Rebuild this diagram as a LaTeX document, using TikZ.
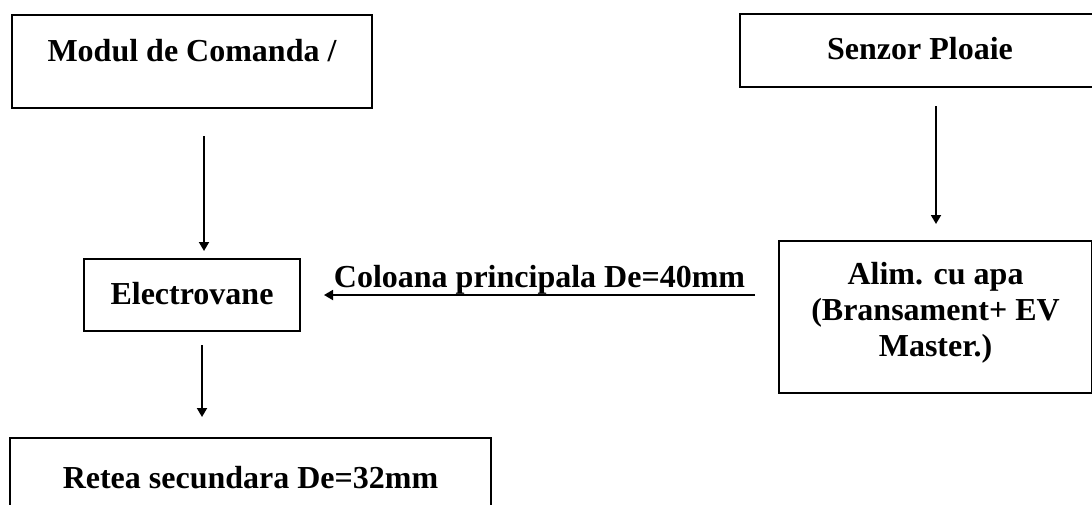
\documentclass[tikz,border=0pt]{standalone}
\usepackage{fontspec}
\setmainfont{Liberation Serif}
\usetikzlibrary{arrows.meta,calc}
\begin{document}
\begin{tikzpicture}[x=1pt,y=-1pt,
  box/.style={draw=black,line width=2pt,inner sep=0pt,font=\fontsize{32}{36}\selectfont\bfseries,anchor=north west},
  arr/.style={line width=1.8pt,-{Triangle[width=10pt,length=9pt]}},
  lbl/.style={font=\fontsize{32}{36}\selectfont\bfseries,inner sep=0pt}]
\useasboundingbox (0,0) rectangle (1092,504);
\node[box,minimum width=360pt,text height=46pt,text depth=47pt] (mod) at (11,14) {Modul de Comanda /};
\node[box,minimum width=360pt,text height=45pt,text depth=28pt] (sen) at (739,13) {Senzor Ploaie};
\node[box,minimum width=216pt,text height=45pt,text depth=27pt] (ev) at (83,258) {Electrovane};
\node[box,minimum width=313pt,align=center,text height=115pt,text depth=37pt] (alim) at (778,240) {Alim. cu apa\\(Bransament+ EV\\Master.)};
\node[box,minimum width=481pt,text height=50pt,text depth=45pt] (ret) at (9,437) {Retea secundara De=32mm};
\draw[arr,shorten <=27pt,shorten >=7pt] ([xshift=12pt]mod.south) -- ([xshift=12pt]mod.south |- ev.north);
\draw[arr,shorten <=18pt,shorten >=16pt] ([xshift=16pt]sen.south) -- ([xshift=16pt]sen.south |- alim.north);
\draw[arr,shorten <=23pt,shorten >=23pt] (alim.west |- ev.east) -- node[lbl,above=0pt] (col) {Coloana principala De=40mm} (ev.east);
\draw[arr,shorten <=13pt,shorten >=20pt] ([xshift=10pt]ev.south) -- ([xshift=10pt]ev.south |- ret.north);
\end{tikzpicture}
\end{document}
